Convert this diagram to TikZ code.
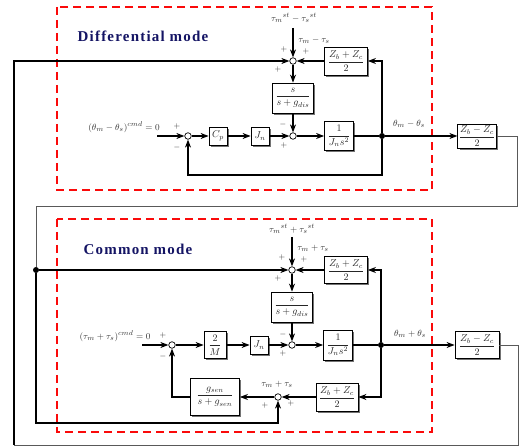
\documentclass[tikz,border=0pt]{standalone}
\usepackage{fontspec}
\setmainfont{Liberation Serif}
\newfontfamily\modefont[LetterSpace=8]{Liberation Serif}
\usetikzlibrary{arrows.meta,shadows}
\definecolor{navy}{RGB}{20,20,100}
\definecolor{zonered}{RGB}{250,10,10}
\newcommand{\fr}[2]{$\displaystyle\frac{#1}{#2}$}
\tikzset{
  blk/.style={draw,line width=0.8pt,fill=white,inner sep=1pt,text=black!85,
    drop shadow={shadow xshift=1.8pt,shadow yshift=-1.8pt,fill=black!55,opacity=1},
    font=\fontsize{10}{11}\selectfont},
  sumc/.style={circle,draw,fill=white,minimum size=6.5pt,inner sep=0pt,line width=0.7pt},
  jdot/.style={circle,fill,minimum size=6pt,inner sep=0pt},
  sig/.style={line width=1.1pt,-{Stealth[length=8pt,width=6pt,inset=2.5pt]}},
  wire/.style={line width=1.1pt},
  outw/.style={line width=0.8pt,black!65},
  mode/.style={font=\modefont\bfseries\fontsize{15}{17}\selectfont,text=navy},
  lbl/.style={font=\fontsize{9.5}{11}\selectfont,text=black!80,inner sep=0pt},
  sgn/.style={font=\fontsize{8.5}{9}\selectfont,text=black!80,inner sep=0pt},
  zone/.style={zonered,line width=2.6pt,dash pattern=on 8pt off 5pt}
}
\begin{document}
\begin{tikzpicture}[x=1pt,y=-1pt,line cap=butt,line join=miter]
  \useasboundingbox (0,0) rectangle (520,446);
  % mode frames
  \draw[zone] (57,7) rectangle (432,190);
  \draw[zone] (57,219) rectangle (432,432);
  \node[mode] (tMode) at (143,36) {Differential mode};
  \node[mode] (cMode) at (138,249) {Common mode};

  % ---- differential mode ----
  \node[sumc] (tS1) at (293,61) {};
  \node[blk,minimum width=43pt,minimum height=28pt] (tZp) at (346,61) {\fr{Z_b+Z_c}{2}};
  \node[blk,minimum width=41pt,minimum height=30pt] (tG) at (293,98) {\fr{s}{s+g_{dis}}};
  \node[sumc] (tS2) at (293,136) {};
  \node[blk,minimum width=29pt,minimum height=29pt] (tP) at (339,136) {\fr{1}{J_n s^2}};
  \node[jdot] (tD) at (382,136) {};
  \node[blk,minimum width=37pt,minimum height=24pt] (tZm) at (477,136) {\fr{Z_b-Z_c}{2}};
  \node[sumc] (tS0) at (188,136) {};
  \node[blk,minimum size=18pt] (tC) at (218,136) {$C_p$};
  \node[blk,minimum size=18pt] (tJ) at (260,136) {$J_n$};
  \coordinate (tIn) at (157,136);
  \coordinate (tTop) at (293,28);
  \coordinate (tFb) at (188,175);
  \coordinate (tR) at (517,206);
  \coordinate (tLw) at (36,206);
  \node[lbl] (tCmd) at (124,127) {$(\theta_m-\theta_s)^{cmd}=0$};
  \node[lbl] (tSt) at (294,18) {${\tau_m}^{st}-{\tau_s}^{st}$};
  \node[lbl] (tTau) at (314,40) {$\tau_m-\tau_s$};
  \node[lbl] (tOut) at (409,124) {$\theta_m-\theta_s$};
  \foreach \x/\y [count=\i] in {284/50,306/52,278/70,284/146,177/127}
    \node[sgn] (tPl\i) at (\x,\y) {$+$};
  \foreach \x/\y [count=\i] in {283/125,177/148}
    \node[sgn] (tMi\i) at (\x,\y) {$-$};

  \draw[sig] (tTop) -- (tS1);
  \draw[sig] (tZp) -- (tS1);
  \draw[sig] (tS1) -- (tG);
  \draw[sig] (tG) -- (tS2);
  \draw[sig] (tIn) -- (tS0);
  \draw[sig] (tS0) -- (tC);
  \draw[sig] (tC) -- (tJ);
  \draw[sig] (tJ) -- (tS2);
  \draw[sig] (tS2) -- (tP);
  \draw[wire] (tP) -- (tD);
  \draw[sig] (tD) -- (tZm);
  \draw[sig] (tD) |- (tZp);
  \draw[sig] (tD) |- (tFb) -- (tS0);

  % ---- common mode ----
  \node[jdot] (cJn) at (36,270) {};
  \node[sumc] (cS1) at (292,270) {};
  \node[blk,minimum width=43pt,minimum height=27pt] (cZp) at (346,270) {\fr{Z_b+Z_c}{2}};
  \node[blk,minimum width=41pt,minimum height=30pt] (cG) at (292,307) {\fr{s}{s+g_{dis}}};
  \node[sumc] (cS2) at (292,345) {};
  \node[blk,minimum width=29pt,minimum height=30pt] (cP) at (338,345) {\fr{1}{J_n s^2}};
  \node[jdot] (cD) at (381,345) {};
  \node[blk,minimum width=44pt,minimum height=27pt] (cZm) at (477,345) {\fr{Z_b-Z_c}{2}};
  \node[sumc] (cS0) at (172,345) {};
  \node[blk,minimum width=22pt,minimum height=27pt] (cM) at (215,345) {\fr{2}{M}};
  \node[blk,minimum size=18pt] (cJ) at (259,345) {$J_n$};
  \node[blk,minimum width=42pt,minimum height=28pt] (cZf) at (337,397) {\fr{Z_b+Z_c}{2}};
  \node[sumc] (cS3) at (278,397) {};
  \node[blk,minimum width=49pt,minimum height=37pt] (cH) at (215,397) {\fr{g_{sen}}{s+g_{sen}}};
  \coordinate (cIn) at (142,345);
  \coordinate (cTop) at (292,237);
  \coordinate (cB) at (36,423);
  \coordinate (cR) at (518,445);
  \coordinate (cL) at (14,445);
  \node[lbl] (cCmd) at (115,336) {$(\tau_m+\tau_s)^{cmd}=0$};
  \node[lbl] (cSt) at (292,229) {${\tau_m}^{st}+{\tau_s}^{st}$};
  \node[lbl] (cTau) at (313,248) {$\tau_m+\tau_s$};
  \node[lbl] (cOut) at (410,334) {$\theta_m+\theta_s$};
  \node[lbl] (cFb) at (277,384) {$\tau_m+\tau_s$};
  \foreach \x/\y [count=\i] in {282/258,304/260,278/279,283/354,163/336,265/406,291/404}
    \node[sgn] (cPl\i) at (\x,\y) {$+$};
  \foreach \x/\y [count=\i] in {283/335,163/357}
    \node[sgn] (cMi\i) at (\x,\y) {$-$};

  \draw[sig] (cTop) -- (cS1);
  \draw[sig] (cZp) -- (cS1);
  \draw[sig] (cJn) -- (cS1);
  \draw[sig] (cS1) -- (cG);
  \draw[sig] (cG) -- (cS2);
  \draw[sig] (cIn) -- (cS0);
  \draw[sig] (cS0) -- (cM);
  \draw[sig] (cM) -- (cJ);
  \draw[sig] (cJ) -- (cS2);
  \draw[sig] (cS2) -- (cP);
  \draw[wire] (cP) -- (cD);
  \draw[sig] (cD) -- (cZm);
  \draw[sig] (cD) |- (cZp);
  \draw[sig] (cD) |- (cZf);
  \draw[sig] (cZf) -- (cS3);
  \draw[sig] (cS3) -- (cH);
  \draw[sig] (cH) -| (cS0);
  \draw[sig] (cJn) -- (cB) -| (cS3);

  % ---- outer loops ----
  \draw[outw] (tZm) -| (tR) -- (tLw) -- (cJn);
  \draw[outw] (cZm) -| (cR) -- (cL);
  \draw[sig] (cL) |- (tS1);
\end{tikzpicture}
\end{document}
